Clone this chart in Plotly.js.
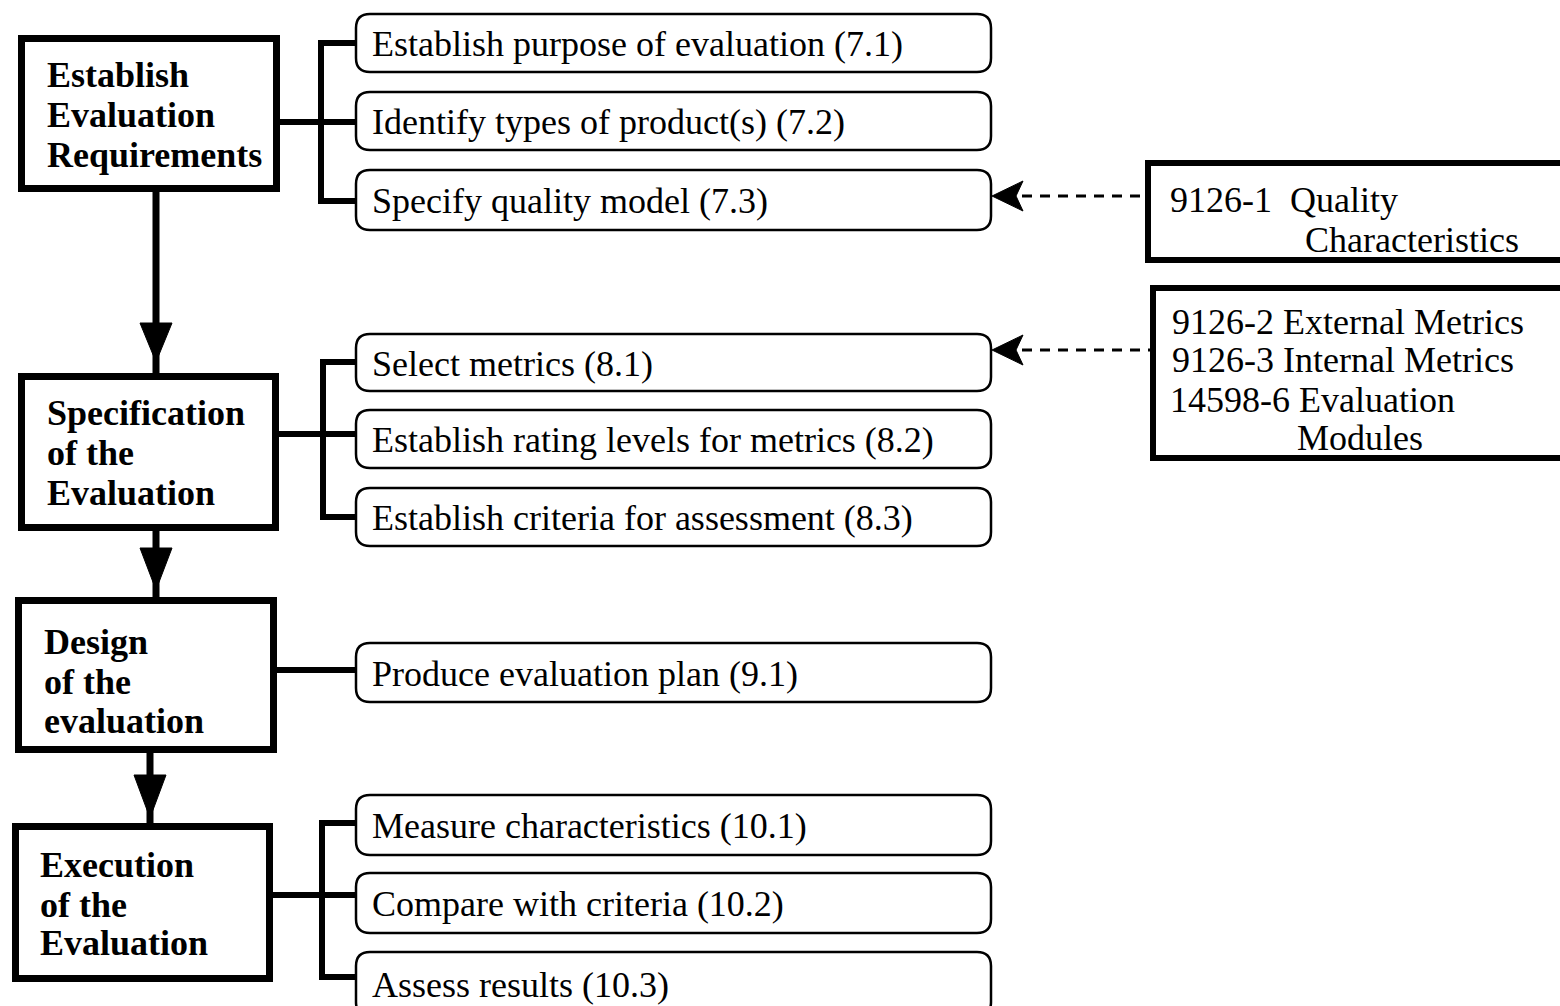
<!DOCTYPE html>
<html><head><meta charset="utf-8">
<script src="https://cdn.plot.ly/plotly-3.0.1.min.js"></script>
<style>html,body{margin:0;padding:0;background:#fff;}#chart{width:1560px;height:1006px;}</style>
</head><body><div id="chart"></div>
<script>
// ---- content ----
const stageLabels = [
  ["Establish", "Evaluation", "Requirements"],
  ["Specification", "of the", "Evaluation"],
  ["Design", "of the", "evaluation"],
  ["Execution", "of the", "Evaluation"]
];
const activityLabels = [
  ["Establish purpose of evaluation (7.1)", "Identify types of product(s) (7.2)", "Specify quality model (7.3)"],
  ["Select metrics (8.1)", "Establish rating levels for metrics (8.2)", "Establish criteria for assessment (8.3)"],
  ["Produce evaluation plan (9.1)"],
  ["Measure characteristics (10.1)", "Compare with criteria (10.2)", "Assess results (10.3)"]
];
const referenceLabels = [
  ["9126-1  Quality", "Characteristics"],
  ["9126-2 External Metrics", "9126-3 Internal Metrics", "14598-6 Evaluation", "Modules"]
];

// ---- layout geometry (pixels) ----
const stageBox = [[21.5,276.5,38.5,188.5],[21.5,275.5,376.5,527.5],[18.5,273.5,600.5,749.5],[15.5,269.5,826.5,978.5]];
const stageTextX = [45,45,42,38];
const stageTextY = [[75,115,155],[413,453,493],[642,682,721],[865,905,943]];
const actX = [356, 991];
const actBoxY = [[[14,72],[92,150],[170,230]],[[334,391],[410,468],[488,546]],[[643,702]],[[795,855],[873,933],[952,1016]]];
const bracketX = [321, 323, null, 322];
const stubY = [[43,122,201],[362,434,517],[670],[823,895,977]];
const vArrows = [{x:156,y0:192,y1:373,h0:323,h1:362},{x:156,y0:531,y1:598,h0:548,h1:590},{x:150,y0:753,y1:823,h0:775,h1:818}];
const refBox = [[1148,1580,163,260],[1153,1580,288,458]];
const refTextX = [[1168,1303],[1170,1170,1168,1295]];
const refTextY = [[200,240],[322,360,400,438]];
const refArrow = [{y:196, x1:1145},{y:350, x1:1150}];
const tipX = 992;

const FONT = "'Liberation Serif', 'Times New Roman', serif";
const shapes = [], annotations = [];

function rrect(x0,x1,y0,y1,r){
  return `M${x0+r},${y0} L${x1-r},${y0} Q${x1},${y0} ${x1},${y0+r} L${x1},${y1-r} Q${x1},${y1} ${x1-r},${y1} L${x0+r},${y1} Q${x0},${y1} ${x0},${y1-r} L${x0},${y0+r} Q${x0},${y0} ${x0+r},${y0} Z`;
}
function line(x0,y0,x1,y1,w,dash){
  shapes.push({type:'line',xref:'x',yref:'y',x0,y0,x1,y1,line:{color:'#000',width:w,dash:dash||'solid'}});
}
function text(t,x,y,bold){
  annotations.push({text:t,x,y,xref:'x',yref:'y',xanchor:'left',yanchor:'middle',showarrow:false,
    font:{family:FONT,size:36,color:'#000',weight:bold?'bold':'normal'}});
}

stageLabels.forEach((lines,i)=>{
  const [x0,x1,y0,y1] = stageBox[i];
  shapes.push({type:'rect',xref:'x',yref:'y',x0,x1,y0,y1,line:{color:'#000',width:7},fillcolor:'rgba(0,0,0,0)'});
  lines.forEach((t,j)=>text('<b>'+t+'</b>', stageTextX[i], stageTextY[i][j], true));
  // activities
  activityLabels[i].forEach((t,j)=>{
    const [ay0,ay1] = actBoxY[i][j];
    shapes.push({type:'path',xref:'x',yref:'y',path:rrect(actX[0],actX[1],ay0,ay1,14),line:{color:'#000',width:2.5}});
    const ty = (i===3 && j===2) ? 985 : (ay0+ay1)/2+1;
    text(t, 370, ty, false);
  });
  // connectors
  const s = stubY[i];
  const midY = s[Math.floor(s.length/2)];
  if (bracketX[i] === null) {
    line(x1, midY, actX[0], midY, 6);
  } else {
    const bx = bracketX[i];
    line(x1, midY, bx, midY, 6);
    line(bx, s[0]-3, bx, s[s.length-1]+3, 6);
    s.forEach(y=>line(bx-3, y, actX[0], y, 6));
  }
});

vArrows.forEach(a=>{
  line(a.x, a.y0, a.x, a.y1, 7);
  shapes.push({type:'path',xref:'x',yref:'y',path:`M${a.x-16},${a.h0} L${a.x+16},${a.h0} L${a.x},${a.h1} Z`,fillcolor:'#000',line:{color:'#000',width:1}});
});

referenceLabels.forEach((lines,i)=>{
  const [x0,x1,y0,y1] = refBox[i];
  shapes.push({type:'rect',xref:'x',yref:'y',x0,x1,y0,y1,line:{color:'#000',width:6},fillcolor:'rgba(0,0,0,0)'});
  lines.forEach((t,j)=>text(t, refTextX[i][j], refTextY[i][j], false));
  const a = refArrow[i];
  line(1022, a.y, a.x1, a.y, 3, '10px,8px');
  shapes.push({type:'path',xref:'x',yref:'y',path:`M${tipX},${a.y} L${tipX+31},${a.y-15} L${tipX+24},${a.y} L${tipX+31},${a.y+15} Z`,fillcolor:'#000',line:{color:'#000',width:1}});
});

Plotly.newPlot('chart', [], {
  width:1560, height:1006,
  margin:{l:0,r:0,t:0,b:0},
  paper_bgcolor:'#fff', plot_bgcolor:'#fff',
  xaxis:{range:[0,1560],visible:false,fixedrange:true},
  yaxis:{range:[1006,0],visible:false,fixedrange:true},
  showlegend:false,
  shapes, annotations
}, {displayModeBar:false, staticPlot:true});
</script>
</body></html>
